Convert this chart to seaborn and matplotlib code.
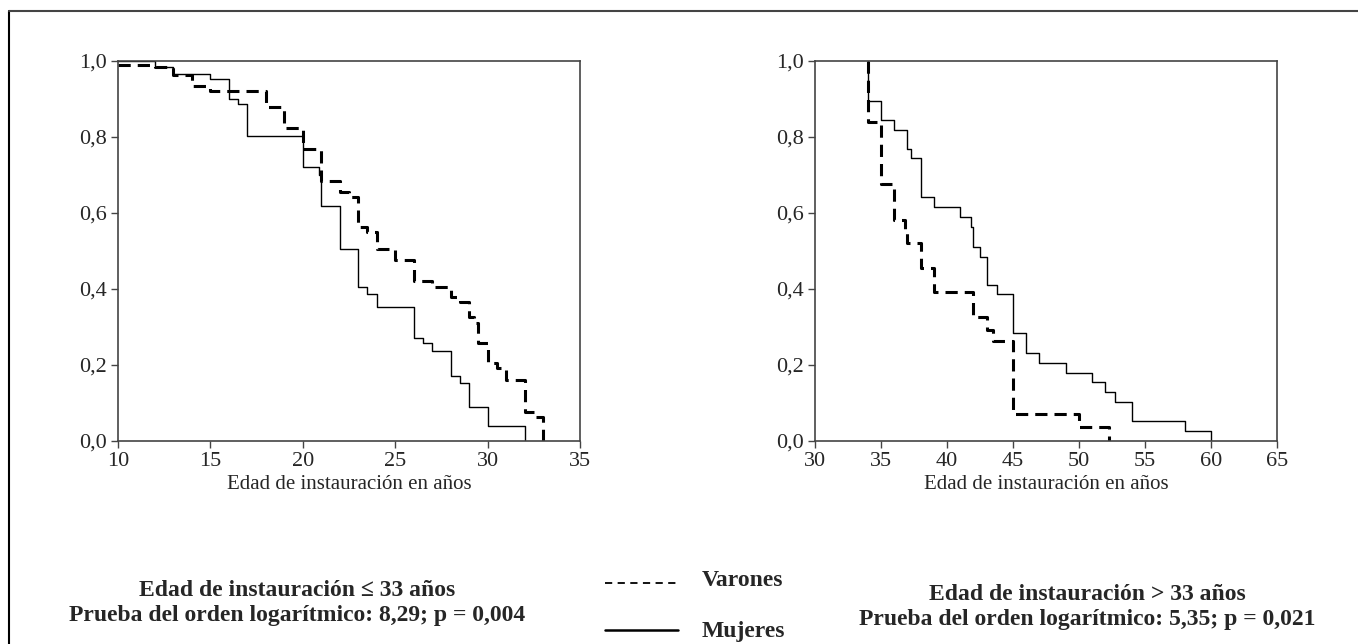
import numpy as np
import pandas as pd
import matplotlib.pyplot as plt
import seaborn as sns
from matplotlib.lines import Line2D

# Curvas de supervivencia (Kaplan-Meier)

# Edad de instauracion <= 33 anos
edad_var_1 = [10, 12, 13, 14, 15, 18, 19, 20, 21, 22, 22.5, 23, 23.5, 24, 25, 26, 27, 28, 28.5,
              29, 29.25, 29.5, 30, 30.5, 31, 32, 32.5, 33]
surv_var_1 = [0.99, 0.985, 0.963, 0.934, 0.921, 0.878, 0.823, 0.768, 0.684, 0.656, 0.643, 0.564, 0.551,
              0.504, 0.476, 0.422, 0.406, 0.380, 0.367, 0.327, 0.31, 0.259, 0.204, 0.191, 0.161,
              0.077, 0.064, 0.0]

edad_muj_1 = [10, 12, 13, 15, 16, 16.5, 17, 20, 20.85, 21, 22, 23, 23.5, 24, 26, 26.5, 27, 28,
              28.5, 29, 30, 32]
surv_muj_1 = [1.0, 0.985, 0.966, 0.952, 0.899, 0.886, 0.803, 0.720, 0.70, 0.619, 0.504, 0.406, 0.387,
              0.352, 0.270, 0.259, 0.237, 0.171, 0.153, 0.089, 0.039, 0.0]

# Edad de instauracion > 33 anos
edad_var_2 = [34, 34, 35, 36, 36.8, 37, 38, 39, 42, 43, 43.5, 45, 50, 52.3]
surv_var_2 = [1.0, 0.840, 0.677, 0.582, 0.551, 0.52, 0.454, 0.391, 0.327, 0.293, 0.263, 0.07, 0.037, 0.0]

edad_muj_2 = [34, 34, 35, 36, 37, 37.3, 38, 39, 41, 41.8, 42, 42.5, 43, 43.8, 45, 46, 47, 49, 51,
              52, 52.7, 54, 58, 60]
surv_muj_2 = [1.0, 0.896, 0.845, 0.818, 0.768, 0.744, 0.643, 0.617, 0.59, 0.564, 0.511, 0.485, 0.41,
              0.387, 0.285, 0.232, 0.206, 0.18, 0.156, 0.13, 0.103, 0.053, 0.026, 0.0]

yticks = [0.0, 0.2, 0.4, 0.6, 0.8, 1.0]
ytick_labels = ['0,0', '0,2', '0,4', '0,6', '0,8', '1,0']

sns.set_style('ticks')
plt.rcParams['font.family'] = ['Liberation Serif', 'DejaVu Serif']

fig = plt.figure(figsize=(13.58, 6.44), dpi=100)

W, H = 1358, 644
ax1 = fig.add_axes([118 / W, 1 - 441 / H, 462 / W, 380 / H])
ax2 = fig.add_axes([815 / W, 1 - 441 / H, 462 / W, 380 / H])


def curva(ax, x, y, dashed):
    df = pd.DataFrame({'edad': x, 'surv': y})
    if dashed:
        sns.lineplot(data=df, x='edad', y='surv', ax=ax, color='black', linewidth=2.2,
                     drawstyle='steps-post', sort=False, estimator=None, dashes=False)
        ax.lines[-1].set_dashes((4.0, 2.3))
    else:
        sns.lineplot(data=df, x='edad', y='surv', ax=ax, color='black', linewidth=1.0,
                     drawstyle='steps-post', sort=False, estimator=None)


curva(ax1, edad_muj_1, surv_muj_1, False)
curva(ax1, edad_var_1, surv_var_1, True)
curva(ax2, edad_muj_2, surv_muj_2, False)
curva(ax2, edad_var_2, surv_var_2, True)

for ax, xlim, xt in [(ax1, (10, 35), np.arange(10, 36, 5)), (ax2, (30, 65), np.arange(30, 66, 5))]:
    ax.set_xlim(*xlim)
    ax.set_ylim(0, 1.0)
    ax.set_xticks(xt)
    ax.set_yticks(yticks)
    ax.set_yticklabels(ytick_labels)
    ax.tick_params(labelsize=16, length=5, width=1, color='#444444', pad=3)
    ax.set_xlabel('Edad de instauración en años', fontsize=15, labelpad=3)
    ax.set_ylabel('')
    for s in ax.spines.values():
        s.set_linewidth(1.2)
        s.set_color('#444444')

# marco exterior
fig.add_artist(Line2D([9 / W, 9 / W], [1 - 11 / H, 0], color='black', linewidth=1.5))
fig.add_artist(Line2D([9 / W, 1], [1 - 11 / H, 1 - 11 / H], color='#444444', linewidth=1.5))

# textos inferiores
fig.text(297 / W, 1 - 590 / H, 'Edad de instauración ≤ 33 años', ha='center', va='center',
         fontsize=17, fontweight='bold')
fig.text(297 / W, 1 - 615 / H, 'Prueba del orden logarítmico: 8,29; p = 0,004', ha='center', va='center',
         fontsize=17, fontweight='bold')
fig.text(1087 / W, 1 - 595 / H, 'Edad de instauración > 33 años', ha='center', va='center',
         fontsize=17, fontweight='bold')
fig.text(1087 / W, 1 - 620 / H, 'Prueba del orden logarítmico: 5,35; p = 0,021', ha='center', va='center',
         fontsize=17, fontweight='bold')

# leyenda
fig.add_artist(Line2D([605 / W, 678 / W], [1 - 583 / H, 1 - 583 / H], color='black',
                      linewidth=1.3, dashes=(4, 3)))
fig.add_artist(Line2D([605 / W, 678 / W], [1 - 630 / H, 1 - 630 / H], color='black', linewidth=1.8))
fig.text(702 / W, 1 - 581 / H, 'Varones', ha='left', va='center', fontsize=17, fontweight='bold')
fig.text(702 / W, 1 - 631 / H, 'Mujeres', ha='left', va='center', fontsize=17, fontweight='bold')

plt.savefig('out.png', dpi=100)
